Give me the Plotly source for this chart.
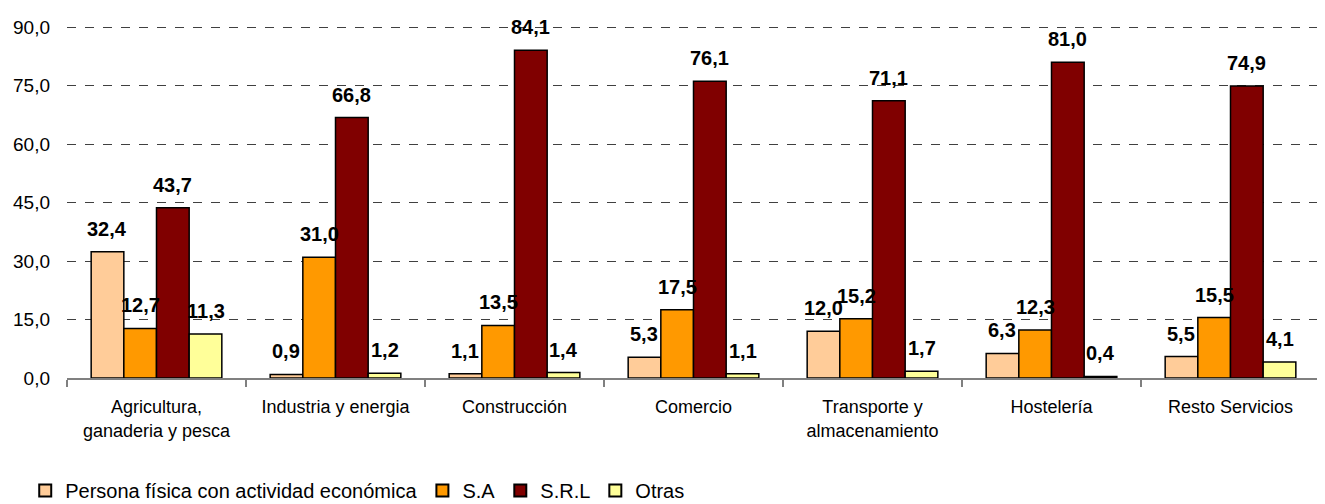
import plotly.graph_objects as go

categories = ["Agricultura,<br>ganaderia y pesca", "Industria y energia", "Construcción",
              "Comercio", "Transporte y<br>almacenamiento", "Hostelería", "Resto Servicios"]
series_names = ["Persona física con actividad económica", "S.A", "S.R.L", "Otras"]
persona_fisica = [32.4, 0.9, 1.1, 5.3, 12.0, 6.3, 5.5]
sa = [12.7, 31.0, 13.5, 17.5, 15.2, 12.3, 15.5]
srl = [43.7, 66.8, 84.1, 76.1, 71.1, 81.0, 74.9]
otras = [11.3, 1.2, 1.4, 1.1, 1.7, 0.4, 4.1]
y_ticks = [0, 15, 30, 45, 60, 75, 90]

colors = ["#FFCC99", "#FF9900", "#800000", "#FFFF99"]
series = [persona_fisica, sa, srl, otras]

def fmt(v):
    return f"{v:.1f}".replace(".", ",")

FONT = "Arial, Liberation Sans, sans-serif"
W, H = 1325, 504
ML, MR, MT, MB = 59, 13, 18, 134
bargap = 0.27
plot_w = W - ML - MR
cat_w = plot_w / len(categories)
bar_w = cat_w * (1 - bargap) / len(series)

fig = go.Figure()
for name, vals, col in zip(series_names, series, colors):
    fig.add_trace(go.Bar(
        x=categories, y=vals, name=name,
        marker=dict(color=col, line=dict(color="#000000", width=1.5)),
    ))

for i, vals in enumerate(series):
    off = (i - (len(series) - 1) / 2) * bar_w
    for c, v in zip(categories, vals):
        fig.add_annotation(x=c, y=v, text=f"<b>{fmt(v)}</b>", showarrow=False,
                           xshift=off, yshift=23, yanchor="middle",
                           font=dict(family=FONT, size=20, color="#000000"))

fig.update_layout(
    width=W, height=H,
    margin=dict(l=ML, r=MR, t=MT, b=MB, autoexpand=False),
    paper_bgcolor="white", plot_bgcolor="white",
    barmode="group", bargap=bargap, bargroupgap=0,
    font=dict(family=FONT, size=18, color="#000000"),
    showlegend=True,
    legend=dict(orientation="h", xref="container", yref="container",
                x=0.013, y=0.004, xanchor="left", yanchor="bottom",
                font=dict(family=FONT, size=20), itemwidth=30,
                tracegroupgap=0, itemsizing="constant"),
    xaxis=dict(showline=True, linecolor="#808080", linewidth=1.5,
               ticks="outside", tickson="boundaries", ticklen=7,
               tickcolor="#808080", tickwidth=1.5, automargin=False,
               ticklabelstandoff=12,
               tickfont=dict(family=FONT, size=18), showgrid=False),
    yaxis=dict(range=[0, 90.3], tickvals=y_ticks,
               ticktext=[fmt(t) for t in y_ticks], automargin=False,
               showgrid=True, gridcolor="#404040", griddash="dash", gridwidth=1,
               zeroline=False, showline=False, ticks="", ticklabelstandoff=16,
               tickfont=dict(family=FONT, size=19)),
)

fig.write_html("out.html")
